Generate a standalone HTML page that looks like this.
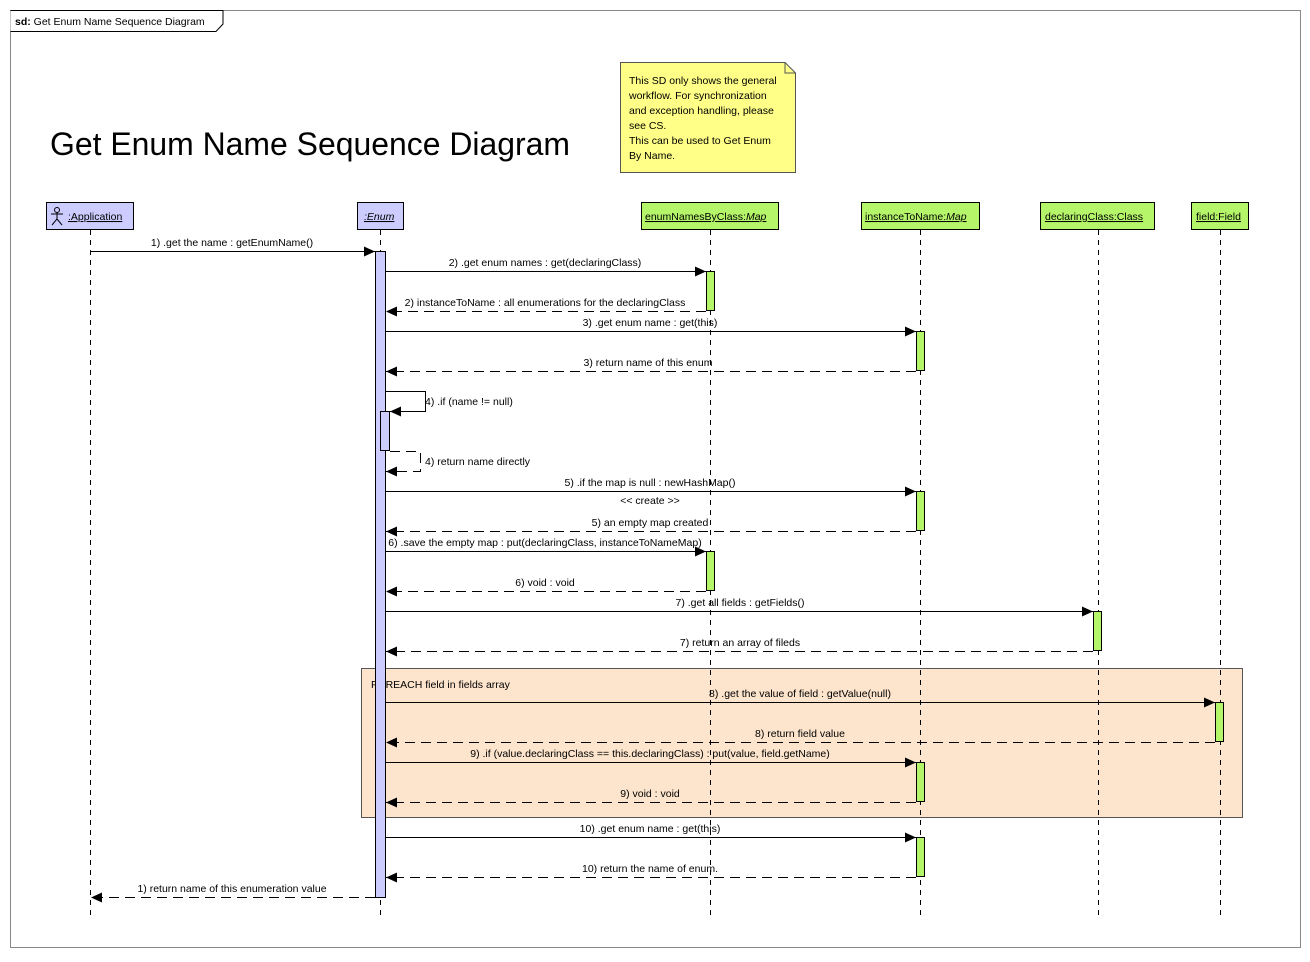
<!DOCTYPE html>
<html><head><meta charset="utf-8"><style>
body{margin:0;background:#fff}
svg text{font-family:"Liberation Sans",Arial,sans-serif;font-size:10.5px;fill:#000}
</style></head><body>
<svg width="1310" height="957" xmlns="http://www.w3.org/2000/svg">
<defs>
<marker id="a" markerWidth="12" markerHeight="12" refX="11" refY="5" orient="auto" markerUnits="userSpaceOnUse"><path d="M0,0 L11,5 L0,10z" fill="#000"/></marker>
</defs>
<rect x="10.5" y="10.5" width="1290" height="937" fill="#fff" stroke="#888"/>
<path d="M10.5,10.5 H223 V24 L216,31.5 H10.5" fill="#fff" stroke="#000"/>
<text x="15" y="25"><tspan font-weight="bold">sd:</tspan> Get Enum Name Sequence Diagram</text>
<text x="50" y="155" style="font-size:32px" textLength="520" lengthAdjust="spacingAndGlyphs">Get Enum Name Sequence Diagram</text>
<path d="M620.5,62.5 H785 L795.5,73 V172.5 H620.5z" fill="#ffff88" stroke="#555"/>
<path d="M785,62.5 V73 H795.5" fill="none" stroke="#555"/>
<g style="font-size:10.5px"><text x="629" y="84">This SD only shows the general</text><text x="629" y="99">workflow. For synchronization</text><text x="629" y="114">and exception handling, please</text><text x="629" y="129">see CS.</text><text x="629" y="144">This can be used to Get Enum</text><text x="629" y="159">By Name.</text></g>
<rect x="361.5" y="668.5" width="881" height="149" fill="#fde4cc" stroke="#555"/>
<text x="371" y="688">FOREACH field in fields array</text>
<g stroke="#000" stroke-dasharray="5,5">
<line x1="90.5" y1="230" x2="90.5" y2="917"/><line x1="380.5" y1="230" x2="380.5" y2="917"/><line x1="710.5" y1="230" x2="710.5" y2="917"/><line x1="920.5" y1="230" x2="920.5" y2="917"/><line x1="1098.5" y1="230" x2="1098.5" y2="917"/><line x1="1220.5" y1="230" x2="1220.5" y2="917"/>
</g>
<g stroke="#000">
<rect x="46.5" y="202.5" width="87" height="27" fill="#ccccff"/>
<rect x="357.5" y="202.5" width="46" height="27" fill="#ccccff"/>
<rect x="641.5" y="202.5" width="137" height="27" fill="#b5f56a"/>
<rect x="861.5" y="202.5" width="118" height="27" fill="#b5f56a"/>
<rect x="1040.5" y="202.5" width="114" height="27" fill="#b5f56a"/>
<rect x="1191.5" y="202.5" width="57" height="27" fill="#b5f56a"/>
</g>
<g text-decoration="underline" fill="#000">
<text x="68" y="220">:Application</text>
<text x="364" y="220" font-style="italic">:Enum</text>
<text x="645" y="220">enumNamesByClass:<tspan font-style="italic">Map</tspan></text>
<text x="865" y="220">instanceToName:<tspan font-style="italic">Map</tspan></text>
<text x="1045" y="220">declaringClass:Class</text>
<text x="1196" y="220">field:Field</text>
</g>
<g stroke="#000" fill="none"><circle cx="57" cy="210" r="2.5"/><path d="M51,214 H63 M57,212 V219 L52,225 M57,219 L62,225"/></g>
<g stroke="#000">
<rect x="375.5" y="251.5" width="10" height="646" fill="#ccccff"/>
<rect x="380.5" y="411.5" width="9" height="39" fill="#ccccff"/>
<g fill="#b5f56a">
<rect x="706.5" y="271.5" width="8" height="39"/><rect x="706.5" y="551.5" width="8" height="39"/>
<rect x="916.5" y="331.5" width="8" height="39"/><rect x="916.5" y="491.5" width="8" height="39"/><rect x="916.5" y="762.5" width="8" height="39"/><rect x="916.5" y="837.5" width="8" height="39"/>
<rect x="1093.5" y="611.5" width="8" height="39"/><rect x="1215.5" y="702.5" width="8" height="39"/>
</g>
</g>
<g stroke="#000" fill="none" marker-end="url(#a)">
<line x1="90" y1="251.5" x2="375" y2="251.5"/>
<line x1="386" y1="271.5" x2="706" y2="271.5"/>
<line x1="706" y1="311.5" x2="386" y2="311.5" stroke-dasharray="10,6"/>
<line x1="386" y1="331.5" x2="916" y2="331.5"/>
<line x1="916" y1="371.5" x2="386" y2="371.5" stroke-dasharray="10,6"/>
<path d="M386,391.5 H425.5 V411.5 H390"/>
<path d="M390,451.5 H420.5 V471.5 H386" stroke-dasharray="10,6"/>
<line x1="386" y1="491.5" x2="916" y2="491.5"/>
<line x1="916" y1="531.5" x2="386" y2="531.5" stroke-dasharray="10,6"/>
<line x1="386" y1="551.5" x2="706" y2="551.5"/>
<line x1="706" y1="591.5" x2="386" y2="591.5" stroke-dasharray="10,6"/>
<line x1="386" y1="611.5" x2="1093" y2="611.5"/>
<line x1="1093" y1="651.5" x2="386" y2="651.5" stroke-dasharray="10,6"/>
<line x1="386" y1="702.5" x2="1215" y2="702.5"/>
<line x1="1215" y1="742.5" x2="386" y2="742.5" stroke-dasharray="10,6"/>
<line x1="386" y1="762.5" x2="916" y2="762.5"/>
<line x1="916" y1="802.5" x2="386" y2="802.5" stroke-dasharray="10,6"/>
<line x1="386" y1="837.5" x2="916" y2="837.5"/>
<line x1="916" y1="877.5" x2="386" y2="877.5" stroke-dasharray="10,6"/>
<line x1="375" y1="897.5" x2="91" y2="897.5" stroke-dasharray="10,6"/>
</g>
<g text-anchor="middle">
<text x="232" y="246">1) .get the name : getEnumName()</text>
<text x="545" y="266">2) .get enum names : get(declaringClass)</text>
<text x="545" y="306">2) instanceToName : all enumerations for the declaringClass</text>
<text x="650" y="326">3) .get enum name : get(this)</text>
<text x="648" y="366">3) return name of this enum</text>
<text x="650" y="486">5) .if the map is null : newHashMap()</text>
<text x="650" y="504">&lt;&lt; create &gt;&gt;</text>
<text x="650" y="526">5) an empty map created</text>
<text x="545" y="546">6) .save the empty map : put(declaringClass, instanceToNameMap)</text>
<text x="545" y="586">6) void : void</text>
<text x="740" y="606">7) .get all fields : getFields()</text>
<text x="740" y="646">7) return an array of fileds</text>
<text x="800" y="697">8) .get the value of field : getValue(null)</text>
<text x="800" y="737">8) return field value</text>
<text x="650" y="757">9) .if (value.declaringClass == this.declaringClass) : put(value, field.getName)</text>
<text x="650" y="797">9) void : void</text>
<text x="650" y="832">10) .get enum name : get(this)</text>
<text x="650" y="872">10) return the name of enum.</text>
<text x="232" y="892">1) return name of this enumeration value</text>
</g>
<text x="425" y="405">4) .if (name != null)</text>
<text x="425" y="465">4) return name directly</text>
</svg>
</body></html>
